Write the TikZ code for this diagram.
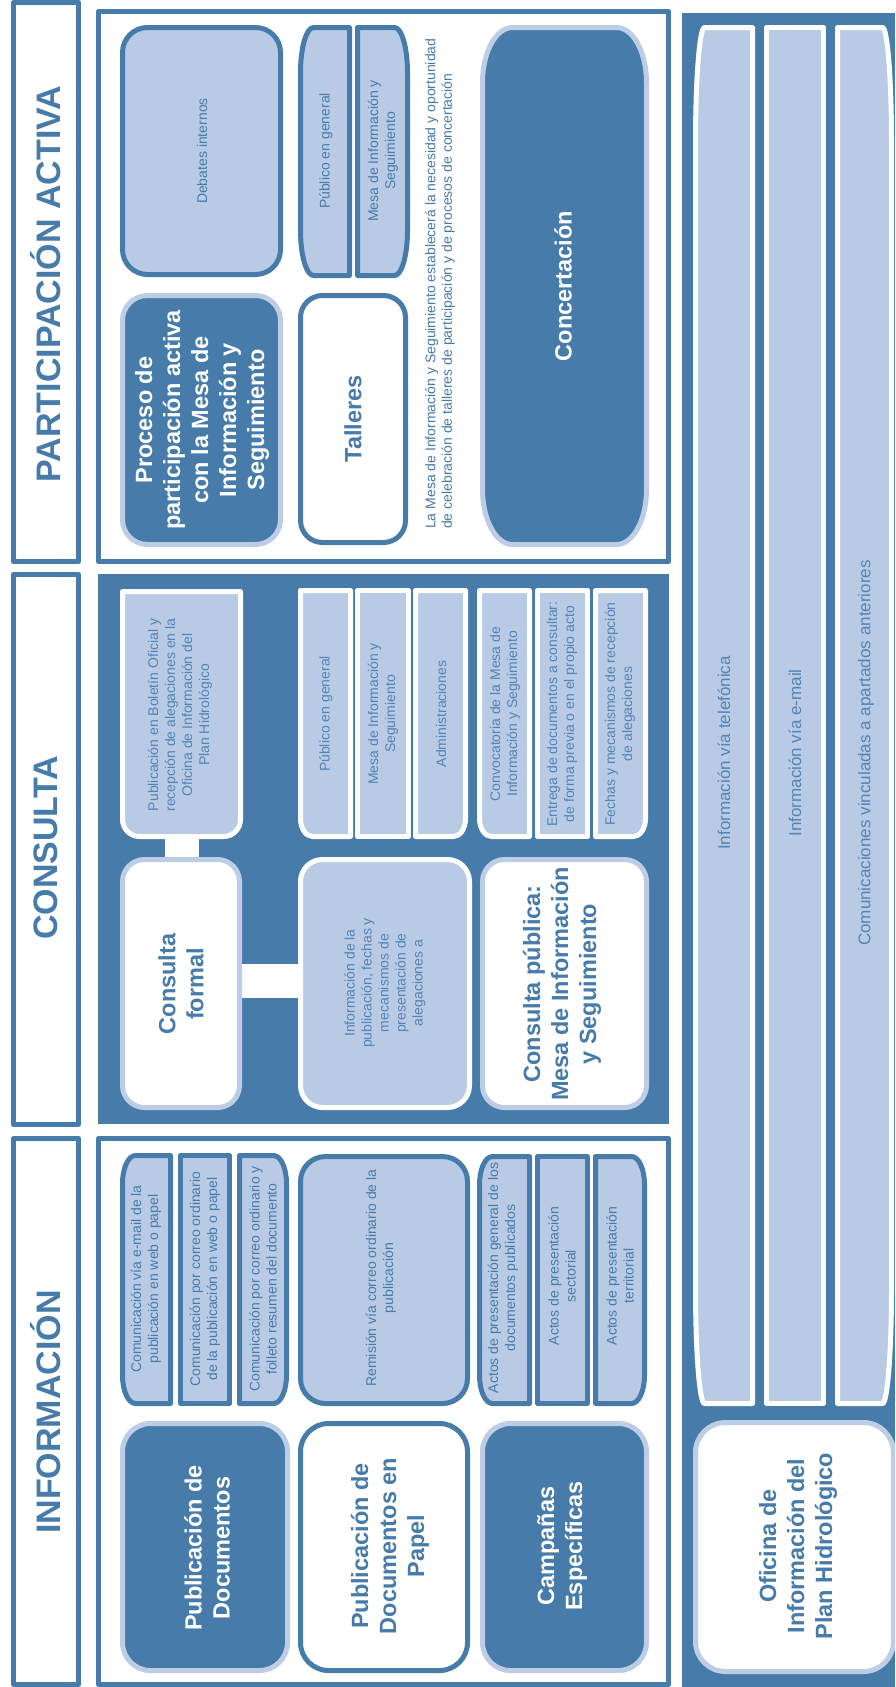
\documentclass[tikz,border=0pt]{standalone}
\usepackage{fontspec}
\setmainfont{Liberation Sans}
\definecolor{dblue}{RGB}{70,123,170}
\definecolor{tblue}{RGB}{82,132,182}
\definecolor{lfill}{RGB}{185,203,228}
\definecolor{lborder}{RGB}{188,205,229}
\def\parseflags#1#2#3#4\relax{\def\cTL{#1}\def\cTR{#2}\def\cBR{#3}\def\cBL{#4}}
% #1 style, #2 x1, #3 y1, #4 x2, #5 y2, #6 rx, #7 ry, #8 corner flags (tl tr br bl)
\newcommand\myrect[8]{%
  \parseflags#8\relax
  \path[#1] (#2,{#3+#7*\cTL}) .. controls (#2,{#3+#7*\cTL*0.448}) and ({#2+#6*\cTL*0.448},#3) .. ({#2+#6*\cTL},#3)
   -- ({#4-#6*\cTR},#3) .. controls ({#4-#6*\cTR*0.448},#3) and (#4,{#3+#7*\cTR*0.448}) .. (#4,{#3+#7*\cTR})
   -- (#4,{#5-#7*\cBR}) .. controls (#4,{#5-#7*\cBR*0.448}) and ({#4-#6*\cBR*0.448},#5) .. ({#4-#6*\cBR},#5)
   -- ({#2+#6*\cBL},#5) .. controls ({#2+#6*\cBL*0.448},#5) and (#2,{#5-#7*\cBL*0.448}) .. (#2,{#5-#7*\cBL})
   -- cycle;}
\begin{document}
\begin{tikzpicture}[x=1pt,y=-1pt,line join=round,
  dkbox/.style={fill=dblue,draw=lborder,line width=5pt},
  ltdk/.style={fill=lfill,draw=dblue,line width=5pt},
  ltwh/.style={fill=lfill,draw=white,line width=5pt},
  whlt/.style={fill=white,draw=lborder,line width=5pt},
  whdk/.style={fill=white,draw=dblue,line width=5pt},
  frame/.style={fill=white,draw=dblue,line width=5pt},
  bar/.style={draw=white,line width=34pt},
  ttl/.style={rotate=90,inner sep=0,text=dblue,font=\fontsize{34}{40}\selectfont\bfseries},
  bigw/.style={rotate=90,align=center,inner sep=0,text=white,font=\fontsize{23.5}{28}\selectfont\bfseries},
  bigd/.style={rotate=90,align=center,inner sep=0,text=dblue,font=\fontsize{23.5}{28}\selectfont\bfseries},
  lbl/.style={rotate=90,align=center,inner sep=0,text=dblue,font=\fontsize{14}{17}\selectfont},
  lblc/.style={rotate=90,align=center,inner sep=0,text=tblue,font=\fontsize{14}{17}\selectfont},
  lblo/.style={rotate=90,align=center,inner sep=0,text=tblue,font=\fontsize{17}{20}\selectfont}]
\useasboundingbox (0,0) rectangle (895,1687);
\clip (0,0) rectangle (895,1687);

% title column
\path[frame] (13.5,2.5) rectangle (78.5,561.5);
\path[frame] (13.5,574.5) rectangle (78.5,1124.5);
\path[frame] (13.5,1138.5) rectangle (78.5,1684.5);
\node[ttl] (tp) at (46,284) {PARTICIPACIÓN ACTIVA};
\node[ttl] (tc) at (46,848) {CONSULTA};
\node[ttl] (ti) at (46,1412) {INFORMACIÓN};

% blocks
\path[frame] (98.5,11.5) rectangle (668.5,561.5);
\path[fill=dblue] (98,574) rectangle (669,1124);
\path[frame] (98.5,1138.5) rectangle (668.5,1684.5);
\path[fill=dblue] (682,13) rectangle (895,1687);

% ---------- Participación activa
\myrect{ltdk}{122.5}{27.5}{280.5}{274.5}{25}{25}{1111}
\node[lbl] (deb) at (202,151) {Debates internos};
\myrect{dkbox}{122.5}{295.5}{280.5}{544.5}{25}{25}{1111}
\node[bigw] (proc) at (202,420) {Proceso de\\participación activa\\con la Mesa de\\Información y\\Seguimiento};
\myrect{ltdk}{300.5}{27.5}{349.5}{275.5}{13}{45}{1001}
\myrect{ltdk}{357.5}{27.5}{407.5}{275.5}{13}{45}{0110}
\node[lbl] (pgp) at (326,151) {Público en general};
\node[lbl] (pmis) at (383,151) {Mesa de Información y\\Seguimiento};
\myrect{whdk}{300.5}{295.5}{405.5}{542.5}{22}{22}{1111}
\node[bigd] (tall) at (353,419) {Talleres};
\node[rotate=90,anchor=west,align=left,inner sep=0,text=dblue,font=\fontsize{14}{16.5}\selectfont] (nota) at (440,529)
  {La Mesa de Información y Seguimiento establecerá la necesidad y oportunidad\\de celebración de talleres de participación y de procesos de concertación};
\myrect{dkbox}{482.5}{27.5}{646.5}{544.5}{30}{55}{1111}
\node[bigw] (conc) at (563,286) {Concertación};

% ---------- Consulta
\coordinate (pb) at (182,714);
\coordinate (cf) at (182,981);
\coordinate (ip) at (385,981);
\draw[bar] (pb) -- (cf);
\draw[bar] (cf) -- (ip);
\myrect{ltwh}{122.5}{591.5}{240.5}{836.5}{17}{17}{0011}
\node[lblc] (pbo) at (180,715) {Publicación en Boletín Oficial y\\recepción de alegaciones en la\\Oficina de Información del\\Plan Hidrológico};
\myrect{whlt}{122.5}{859.5}{239.5}{1107.5}{22}{22}{1111}
\node[bigd] (cform) at (181,984) {Consulta\\formal};
\myrect{ltwh}{300.5}{859.5}{469.5}{1107.5}{22}{22}{1111}
\node[lblc] (ipub) at (385,983) {Información de la\\publicación, fechas y\\mecanismos de\\presentación de\\alegaciones a};
\myrect{ltwh}{300.5}{590.5}{350.5}{836.5}{12}{18}{0001}
\myrect{ltwh}{357.5}{590.5}{408.5}{836.5}{12}{18}{0000}
\myrect{ltwh}{415.5}{590.5}{465.5}{836.5}{12}{18}{0010}
\node[lblc] (cgp) at (326,714) {Público en general};
\node[lblc] (cmis) at (383,714) {Mesa de Información y\\Seguimiento};
\node[lblc] (cadm) at (441,714) {Administraciones};
\myrect{ltwh}{479.5}{590.5}{529.5}{836.5}{12}{18}{0001}
\myrect{ltwh}{537.5}{590.5}{587.5}{836.5}{12}{18}{0000}
\myrect{ltwh}{595.5}{590.5}{645.5}{836.5}{12}{18}{0010}
\node[lblc] (conv) at (505,714) {Convocatoria de la Mesa de\\Información y Seguimiento};
\node[lblc] (entr) at (562,714) {Entrega de documentos a consultar:\\de forma previa o en el propio acto};
\node[lblc] (fech) at (620,714) {Fechas y mecanismos de recepción\\de alegaciones};
\myrect{whlt}{482.5}{859.5}{646.5}{1107.5}{22}{22}{1111}
\node[bigd] (cpub) at (562,984) {Consulta pública:\\Mesa de Información\\y Seguimiento};

% ---------- Información
\myrect{ltdk}{122.5}{1155.5}{170.5}{1403.5}{13}{28}{1001}
\myrect{ltdk}{180.5}{1155.5}{229.5}{1403.5}{13}{28}{0000}
\myrect{ltdk}{239.5}{1155.5}{286.5}{1403.5}{13}{28}{0110}
\node[lbl] (com1) at (146,1279) {Comunicación vía e-mail de la\\publicación en web o papel};
\node[lbl] (com2) at (205,1279) {Comunicación por correo ordinario\\de la publicación en web o papel};
\node[lbl] (com3) at (263,1279) {Comunicación por correo ordinario y\\folleto resumen del documento};
\myrect{ltdk}{300.5}{1156.5}{467.5}{1403.5}{25}{25}{1111}
\node[lbl] (rem) at (381,1278) {Remisión vía correo ordinario de la\\publicación};
\myrect{ltdk}{479.5}{1156.5}{529.5}{1403.5}{13}{28}{1001}
\myrect{ltdk}{537.5}{1156.5}{587.5}{1403.5}{13}{28}{0000}
\myrect{ltdk}{595.5}{1156.5}{644.5}{1403.5}{13}{28}{0110}
\node[lbl] (act1) at (503,1278) {Actos de presentación general de los\\documentos publicados};
\node[lbl] (act2) at (562,1276) {Actos de presentación\\sectorial};
\node[lbl] (act3) at (620,1276) {Actos de presentación\\territorial};
\myrect{dkbox}{122.5}{1423.5}{287.5}{1670.5}{28}{28}{1111}
\node[bigw] (pdoc) at (207,1548) {Publicación de\\Documentos};
\myrect{whdk}{300.5}{1423.5}{467.5}{1670.5}{28}{28}{1111}
\node[bigd] (ppap) at (390,1546) {Publicación de\\Documentos en\\Papel};
\myrect{dkbox}{482.5}{1423.5}{646.5}{1670.5}{28}{28}{1111}
\node[bigw] (camp) at (562,1546) {Campañas\\Específicas};

% ---------- Oficina
\myrect{ltwh}{695.5}{27.5}{752.5}{1403.5}{9}{115}{1001}
\myrect{ltwh}{766.5}{27.5}{823.5}{1403.5}{9}{115}{0000}
\myrect{ltwh}{837.5}{27.5}{891.5}{1403.5}{9}{115}{0110}
\node[lblo] (tel) at (724,753) {Información vía telefónica};
\node[lblo] (mail) at (795,753) {Información vía e-mail};
\node[lblo] (vinc) at (866,753) {Comunicaciones vinculadas a apartados anteriores};
\myrect{whlt}{695.5}{1422.5}{893.5}{1671.5}{30}{30}{1111}
\node[bigd] (ofi) at (798,1546) {Oficina de\\Información del\\Plan Hidrológico};
\end{tikzpicture}
\end{document}
